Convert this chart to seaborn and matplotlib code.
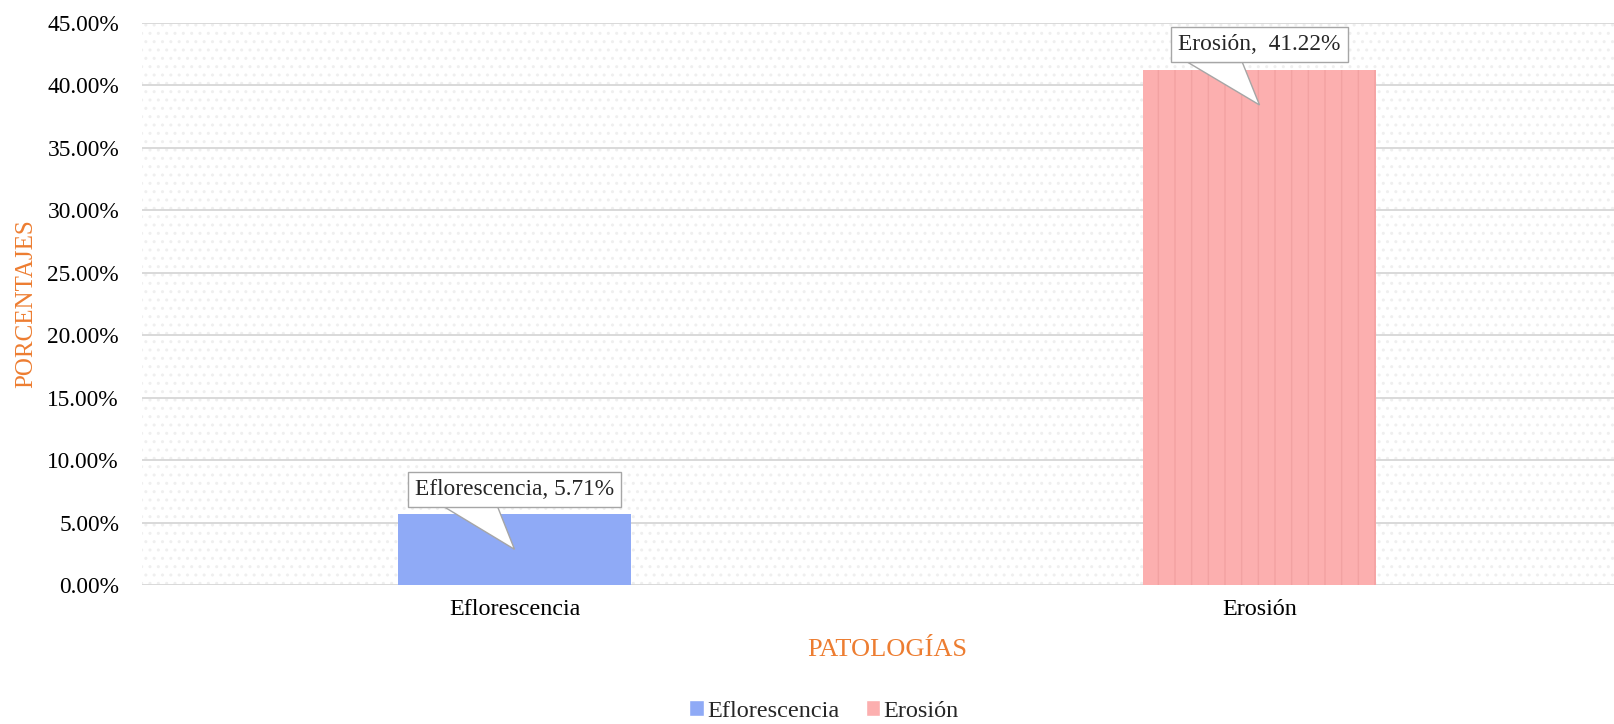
import matplotlib
matplotlib.use("Agg")
import matplotlib.pyplot as plt
import seaborn as sns
from matplotlib.patches import Polygon, Rectangle
from matplotlib.ticker import FuncFormatter, MultipleLocator

# Data
categorias = ["Eflorescencia", "Erosión"]
porcentajes = [5.71, 41.22]
colores = ["#8FAAF6", "#FCAFAF"]
etiquetas = ["Eflorescencia, 5.71%", "Erosión,  41.22%"]

sns.set_theme(style="white")
plt.rcParams["font.family"] = ["Liberation Serif", "DejaVu Serif"]

fig = plt.figure(figsize=(16.14, 7.24), dpi=100)
ax = fig.add_axes([142 / 1614, 139 / 724, 1490 / 1614, 562.3 / 724])

sns.barplot(x=categorias, y=porcentajes, hue=categorias, palette=colores,
            width=0.314, ax=ax, legend=False, saturation=1, zorder=3)

# texture hints on the bars
hatches = ["", "|"]
hatch_cols = ["#7F9CEB", "#F2A2A2"]
for bar, h, hc in zip(ax.patches, hatches, hatch_cols):
    bar.set_hatch(h)
    bar.set_edgecolor(hc)
    bar.set_linewidth(0)

ax.set_xlim(-0.5, 1.5)
ax.set_ylim(0, 45)
ax.yaxis.set_major_locator(MultipleLocator(5))
ax.yaxis.set_major_formatter(FuncFormatter(lambda v, p: f"{v:.2f}%"))
ax.grid(axis="y", color="#D9D9D9", linewidth=1.4, zorder=1)
ax.grid(axis="x", visible=False)
for s in ax.spines.values():
    s.set_visible(False)
ax.tick_params(axis="y", length=0, labelsize=16.8, colors="black", pad=16.5)
ax.tick_params(axis="x", length=0, labelsize=17.4, colors="black", pad=10)

# dotted background
ax.add_patch(Rectangle((0, 0), 1, 1, transform=ax.transAxes, fill=False,
                       hatch="..", edgecolor="#EFEFEF", linewidth=0, zorder=0))

ax.set_xlabel("PATOLOGÍAS", color="#ED7D31", fontsize=19, labelpad=14)
ax.set_ylabel("PORCENTAJES", color="#ED7D31", fontsize=18)
ax.yaxis.set_label_coords(-0.0705, 0.5)

# callouts: tip height as fraction of the bar, box offset above the bar
tip_frac = [0.5, 0.932]
box_gap = [1.94, 2.0]
for i, (v, lab) in enumerate(zip(porcentajes, etiquetas)):
    ty = v + box_gap[i]
    base_y = v + 0.6
    tip = (i, v * tip_frac[i])
    ax.add_patch(Polygon([(i - 0.096, base_y), (i - 0.023, base_y), tip],
                         closed=True, facecolor="white", edgecolor="#A6A6A6",
                         linewidth=1, zorder=4))
    ax.text(i, ty, lab, ha="center", va="center", fontsize=16.8, zorder=5,
            bbox=dict(boxstyle="square,pad=0.3", facecolor="white",
                      edgecolor="#A6A6A6", linewidth=1))

# legend
handles = [Rectangle((0, 0), 1, 1, facecolor=c) for c in colores]
fig.legend(handles, categorias, loc="center", bbox_to_anchor=(824 / 1614, 1 - 711 / 724),
           ncol=2, frameon=False, fontsize=17.5, handlelength=0.6, handleheight=0.6,
           handletextpad=0.12, columnspacing=1.1)

fig.savefig("out.png", dpi=100)
